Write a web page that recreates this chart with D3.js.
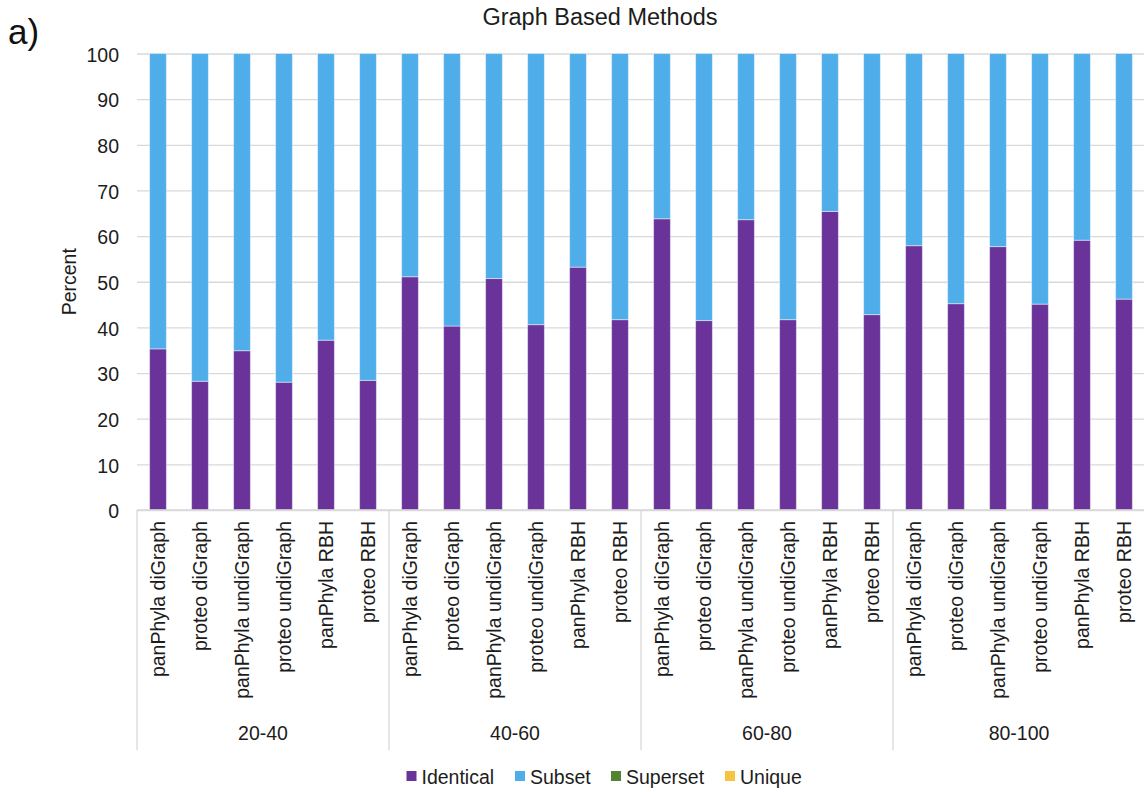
<!DOCTYPE html>
<html>
<head>
<meta charset="utf-8">
<script src="https://cdn.jsdelivr.net/npm/d3@7"></script>
<style>
  html, body { margin: 0; padding: 0; background: #fff; }
  svg { display: block; font-family: "Liberation Sans", Arial, sans-serif; }
</style>
</head>
<body>
<svg id="chart" width="1144" height="792"></svg>
<script>
// Identity-range groups and the methods compared inside each group
const groups = ["20-40", "40-60", "60-80", "80-100"];
const methods = ["panPhyla diGraph", "proteo diGraph", "panPhyla undiGraph",
                 "proteo undiGraph", "panPhyla RBH", "proteo RBH"];

// Percent of clusters per outcome, listed group by group, method by method
const identical = [35.3, 28.2, 34.9, 28.0, 37.2, 28.4,
                   51.1, 40.3, 50.7, 40.6, 53.2, 41.7,
                   63.8, 41.5, 63.6, 41.7, 65.4, 42.8,
                   57.9, 45.2, 57.7, 45.1, 59.1, 46.2];
const subset    = [64.7, 71.8, 65.1, 72.0, 62.8, 71.6,
                   48.9, 59.7, 49.3, 59.4, 46.8, 58.3,
                   36.2, 58.5, 36.4, 58.3, 34.6, 57.2,
                   42.1, 54.8, 42.3, 54.9, 40.9, 53.8];
const superset  = [0, 0, 0, 0, 0, 0, 0, 0, 0, 0, 0, 0,
                   0, 0, 0, 0, 0, 0, 0, 0, 0, 0, 0, 0];
const unique    = [0, 0, 0, 0, 0, 0, 0, 0, 0, 0, 0, 0,
                   0, 0, 0, 0, 0, 0, 0, 0, 0, 0, 0, 0];

const seriesNames = ["Identical", "Subset", "Superset", "Unique"];
const seriesColors = ["#6A3399", "#4FADE9", "#548235", "#F5C242"];
const yTicks = [0, 10, 20, 30, 40, 50, 60, 70, 80, 90, 100];

// Build one row per bar
const rows = [];
groups.forEach((g, gi) => {
  methods.forEach((m, mi) => {
    const i = gi * methods.length + mi;
    rows.push({ key: g + "|" + m, group: g, method: m,
                Identical: identical[i], Subset: subset[i],
                Superset: superset[i], Unique: unique[i] });
  });
});

const svg = d3.select("#chart");
const plot = { left: 137, right: 1145, top: 53.5, bottom: 510 };
const font = 19.5;
const ink = "#1c1c1c";

const x = d3.scaleBand()
  .domain(rows.map(d => d.key))
  .range([plot.left, plot.right])
  .paddingInner(0.6)
  .paddingOuter(0.3);

const xGroup = d3.scaleBand()
  .domain(groups)
  .range([plot.left, plot.right]);

const y = d3.scaleLinear().domain([0, 100]).range([plot.bottom, plot.top]);

const color = d3.scaleOrdinal().domain(seriesNames).range(seriesColors);

// Horizontal gridlines and tick labels
const yAxis = d3.axisLeft(y).tickValues(yTicks)
  .tickSize(-(plot.right - plot.left)).tickPadding(18);
const gy = svg.append("g")
  .attr("transform", `translate(${plot.left},0)`)
  .call(yAxis);
gy.select(".domain").remove();
gy.selectAll(".tick line").attr("stroke", "#d9d9d9").attr("stroke-width", 1.3);
gy.selectAll(".tick text")
  .attr("font-size", font)
  .attr("fill", ink)
  .attr("font-family", "Liberation Sans, Arial, sans-serif")
  .attr("dy", "0.4em");

// Stacked bars
const stack = d3.stack().keys(seriesNames);
const layers = stack(rows);

svg.append("g")
  .selectAll("g")
  .data(layers)
  .join("g")
  .attr("fill", d => color(d.key))
  .selectAll("rect")
  .data(d => d)
  .join("rect")
  .attr("x", d => x(d.data.key))
  .attr("width", x.bandwidth())
  .attr("y", d => y(d[1]))
  .attr("height", d => y(d[0]) - y(d[1]))
  .attr("stroke", "rgba(255,255,255,0.45)")
  .attr("stroke-width", 1);

// Category axis line
svg.append("line")
  .attr("x1", plot.left).attr("x2", plot.right)
  .attr("y1", plot.bottom).attr("y2", plot.bottom)
  .attr("stroke", "#d9d9d9").attr("stroke-width", 1.3);

// Group separators running below the axis
const sepBottom = 750;
const sepX = groups.map(g => xGroup(g)).concat([plot.right]);
svg.append("g")
  .selectAll("line")
  .data(sepX)
  .join("line")
  .attr("x1", d => d).attr("x2", d => d)
  .attr("y1", plot.bottom).attr("y2", sepBottom)
  .attr("stroke", "#d9d9d9").attr("stroke-width", 1.3);

// Method labels, rotated
svg.append("g")
  .selectAll("text")
  .data(rows)
  .join("text")
  .attr("transform", d => `translate(${x(d.key) + x.bandwidth() / 2},521) rotate(-90)`)
  .attr("text-anchor", "end")
  .attr("dy", "0.35em")
  .attr("font-size", font)
  .attr("fill", ink)
  .text(d => d.method);

// Group labels
svg.append("g")
  .selectAll("text")
  .data(groups)
  .join("text")
  .attr("x", g => xGroup(g) + xGroup.bandwidth() / 2)
  .attr("y", 740)
  .attr("text-anchor", "middle")
  .attr("font-size", font)
  .attr("fill", ink)
  .text(g => g);

// Y axis title
svg.append("text")
  .attr("transform", `translate(76,${(plot.top + plot.bottom) / 2}) rotate(-90)`)
  .attr("text-anchor", "middle")
  .attr("font-size", font)
  .attr("fill", ink)
  .text("Percent");

// Chart title and panel letter
svg.append("text")
  .attr("x", 600).attr("y", 25)
  .attr("text-anchor", "middle")
  .attr("font-size", 23.5)
  .attr("fill", ink)
  .text("Graph Based Methods");

svg.append("text")
  .attr("x", 8).attr("y", 44)
  .attr("font-size", 35)
  .attr("fill", "#111")
  .text("a)");

// Legend
const legendX = [406.5, 515, 611, 725];
const legend = svg.append("g")
  .selectAll("g")
  .data(seriesNames)
  .join("g")
  .attr("transform", (d, i) => `translate(${legendX[i]},771)`);
legend.append("rect")
  .attr("width", 10).attr("height", 10)
  .attr("fill", d => color(d));
legend.append("text")
  .attr("x", 15).attr("y", 13)
  .attr("font-size", font)
  .attr("fill", ink)
  .text(d => d);
</script>
</body>
</html>
